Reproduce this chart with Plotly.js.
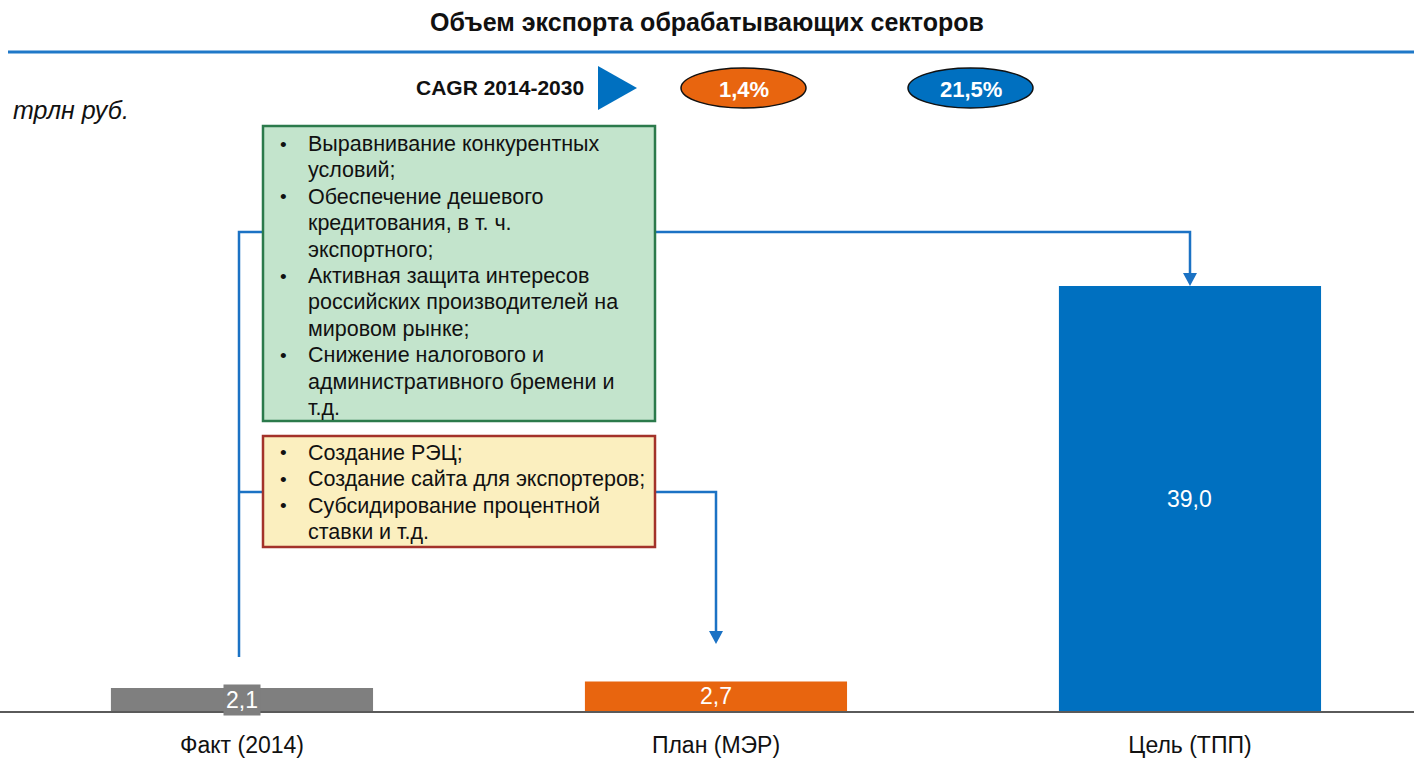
<!DOCTYPE html>
<html>
<head>
<meta charset="utf-8">
<script src="https://cdn.plot.ly/plotly-3.0.1.min.js"></script>
<style>html,body{margin:0;padding:0;background:#fff;}#chart{width:1414px;height:758px;}</style>
</head>
<body>
<div id="chart"></div>
<script>
// ---- data ----
const categories = ['Факт (2014)', 'План (МЭР)', 'Цель (ТПП)'];
const values = [2.1, 2.7, 39.0];
const barColors = ['#7f7f7f', '#e8650f', '#0070c0'];
const cagrLabel = 'CAGR 2014-2030';
const cagrValues = ['1,4%', '21,5%'];
const unitLabel = 'трлн руб.';
const chartTitle = 'Объем экспорта обрабатывающих секторов';
const greenLines = [
  ['•', 'Выравнивание конкурентных'],
  ['', 'условий;'],
  ['•', 'Обеспечение дешевого'],
  ['', 'кредитования, в т. ч.'],
  ['', 'экспортного;'],
  ['•', 'Активная защита интересов'],
  ['', 'российских производителей на'],
  ['', 'мировом рынке;'],
  ['•', 'Снижение налогового и'],
  ['', 'административного бремени и'],
  ['', 'т.д.']
];
const yellowLines = [
  ['•', 'Создание РЭЦ;'],
  ['•', 'Создание сайта для экспортеров;'],
  ['•', 'Субсидирование процентной'],
  ['', 'ставки и т.д.']
];

// ---- layout helpers (pixel -> paper) ----
const W = 1414, H = 758, TOP = 60, BOT = 711;
const PH = BOT - TOP;
const X = px => px / W;
const Y = py => (BOT - py) / PH;
const FONT = 'Liberation Sans, Arial, sans-serif';
const BLUE = '#1b72c4';

const fmt = v => v.toFixed(1).replace('.', ',');

const trace = {
  type: 'bar',
  x: categories,
  y: values,
  width: 0.553,
  marker: {color: barColors, line: {width: 0}},
  hoverinfo: 'skip',
  textposition: 'none'
};

const shapes = [];
const annotations = [];

// blue rule under title
shapes.push({type:'line', xref:'paper', yref:'paper', x0:X(8), x1:1, y0:Y(52), y1:Y(52), line:{color:'#1f78c8', width:3}});
// CAGR triangle
shapes.push({type:'path', xref:'paper', yref:'paper', path:`M ${X(598)} ${Y(66)} L ${X(637)} ${Y(88)} L ${X(598)} ${Y(110)} Z`, fillcolor:'#0070c0', line:{width:0}});
// ellipses
shapes.push({type:'circle', xref:'paper', yref:'paper', x0:X(681), x1:X(806), y0:Y(108), y1:Y(68), fillcolor:'#e8650f', line:{color:'#111', width:1.5}});
shapes.push({type:'circle', xref:'paper', yref:'paper', x0:X(908), x1:X(1033), y0:Y(108), y1:Y(68), fillcolor:'#0070c0', line:{color:'#111', width:1.5}});

// connectors
const conn = (pts) => shapes.push({type:'path', xref:'paper', yref:'paper',
  path: pts.map((p,i)=>(i?'L ':'M ')+X(p[0])+' '+Y(p[1])).join(' '), line:{color:BLUE, width:2.5}});
const head = (cx, tipY) => shapes.push({type:'path', xref:'paper', yref:'paper',
  path:`M ${X(cx-7)} ${Y(tipY-13)} L ${X(cx+7)} ${Y(tipY-13)} L ${X(cx)} ${Y(tipY)} Z`, fillcolor:BLUE, line:{width:0}});
conn([[239,657],[239,232],[263,232]]);
conn([[239,492],[263,492]]);
conn([[655,232],[1190,232],[1190,274]]);
head(1190, 286);
conn([[655,492],[716,492],[716,632]]);
head(716, 644);

// boxes
shapes.push({type:'rect', xref:'paper', yref:'paper', x0:X(263), x1:X(655), y0:Y(421), y1:Y(126), fillcolor:'#c3e4cc', line:{color:'#2b7a4b', width:2.5}});
shapes.push({type:'rect', xref:'paper', yref:'paper', x0:X(263), x1:X(655), y0:Y(547), y1:Y(436), fillcolor:'#fbefbf', line:{color:'#a3322a', width:2.5}});

const boxText = (lines, y0) => lines.forEach((ln, i) => {
  const py = y0 + i * 26.4;
  if (ln[0]) annotations.push({xref:'paper', yref:'paper', x:X(283), y:Y(py), xanchor:'center', yanchor:'middle', text:ln[0], showarrow:false, font:{family:FONT, size:19, color:'#111'}});
  annotations.push({xref:'paper', yref:'paper', x:X(306), y:Y(py), xanchor:'left', yanchor:'middle', text:ln[1], showarrow:false, font:{family:FONT, size:21.5, color:'#111'}});
});
boxText(greenLines, 144);
boxText(yellowLines, 453);

// CAGR texts
annotations.push({xref:'paper', yref:'paper', x:X(586), y:Y(88), xanchor:'right', yanchor:'middle', text:'<b>'+cagrLabel+'</b>', showarrow:false, font:{family:FONT, size:21, color:'#111'}});
annotations.push({xref:'paper', yref:'paper', x:X(743.5), y:Y(89), xanchor:'center', yanchor:'middle', text:'<b>'+cagrValues[0]+'</b>', showarrow:false, font:{family:FONT, size:22, color:'#fff'}});
annotations.push({xref:'paper', yref:'paper', x:X(970.5), y:Y(89), xanchor:'center', yanchor:'middle', text:'<b>'+cagrValues[1]+'</b>', showarrow:false, font:{family:FONT, size:22, color:'#fff'}});
// unit
annotations.push({xref:'paper', yref:'paper', x:X(11), y:Y(110), xanchor:'left', yanchor:'middle', text:'<i>'+unitLabel+'</i>', showarrow:false, font:{family:FONT, size:25, color:'#111'}});

// value labels
values.forEach((v, i) => {
  annotations.push({xref:'x', yref:'y', x:categories[i], y:v/2, xanchor:'center', yanchor:'middle', text:fmt(v), showarrow:false,
    font:{family:FONT, size:23, color:'#fff'}, bgcolor: i===0 ? barColors[0] : 'rgba(0,0,0,0)', borderpad: i===0 ? 2 : 1});
});

const layout = {
  width: W, height: H,
  margin: {l:0, r:0, t:TOP, b:H-BOT, pad:0},
  paper_bgcolor:'#fff', plot_bgcolor:'#fff',
  showlegend:false,
  title: {text:'<b>'+chartTitle+'</b>', x:0.5, xanchor:'center', xref:'paper', y:1-22/H, yanchor:'middle', yref:'container', font:{family:FONT, size:25, color:'#111'}},
  xaxis: {type:'category', range:[-0.5105, 2.4726], showline:true, linecolor:'#5a5a5a', linewidth:2, ticks:'', showgrid:false, zeroline:false,
    tickfont:{family:FONT, size:23, color:'#111'}, ticklabelstandoff:12, fixedrange:true},
  yaxis: {range:[0, 59.74], visible:false, showgrid:false, zeroline:false, fixedrange:true},
  shapes: shapes,
  annotations: annotations
};

Plotly.newPlot('chart', [trace], layout, {displayModeBar:false, staticPlot:true});
</script>
</body>
</html>
